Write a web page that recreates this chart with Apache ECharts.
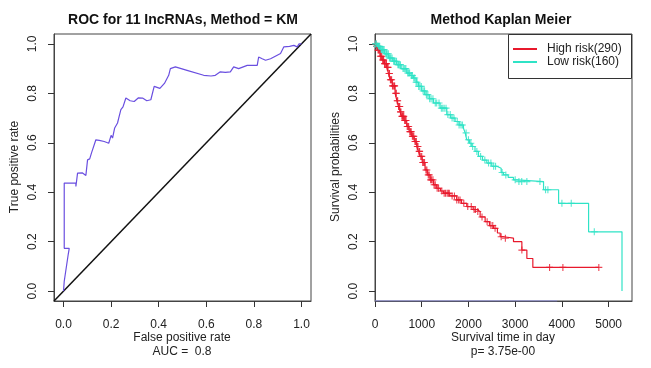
<!DOCTYPE html>
<html><head><meta charset="utf-8">
<script src="https://cdn.jsdelivr.net/npm/echarts@6/dist/echarts.min.js"></script>
<style>html,body{margin:0;padding:0;background:#fff}#c{width:651px;height:368px}</style>
</head><body><div id="c"></div>
<script>
// ROC curve (time-dependent, KM method)
const rocFpr = [0,0.003,0.003,0.01,0.02,0.024,0.024,0.003,0.003,0.052,0.052,0.059,0.08,0.094,0.101,0.11,0.118,0.125,0.136,0.15,0.171,0.19,0.20,0.206,0.215,0.227,0.232,0.241,0.25,0.262,0.28,0.297,0.315,0.332,0.35,0.367,0.381,0.405,0.424,0.442,0.449,0.47,0.519,0.589,0.62,0.638,0.659,0.68,0.701,0.715,0.736,0.772,0.814,0.82,0.835,0.849,0.87,0.912,0.926,0.95,0.968,0.982,0.99,1];
const rocTpr = [0,0,0.04,0.04,0.15,0.155,0.173,0.173,0.437,0.437,0.423,0.477,0.478,0.468,0.531,0.535,0.56,0.565,0.612,0.61,0.605,0.598,0.63,0.619,0.66,0.68,0.70,0.734,0.745,0.781,0.77,0.767,0.782,0.781,0.77,0.774,0.828,0.82,0.84,0.873,0.9,0.907,0.893,0.873,0.87,0.873,0.887,0.885,0.887,0.907,0.9,0.913,0.913,0.947,0.94,0.934,0.94,0.961,0.988,0.99,0.994,0.988,1,1];
const diagonal = [[-0.04,-0.04],[1.04,1.04]];
const rocTicks = [0,0.2,0.4,0.6,0.8,1.0];

// Kaplan–Meier steps
const highTimes = [0,30,60,107,150,200,250,290,321,370,429,470,500,540,571,620,679,730,786,840,893,930,964,1010,1071,1120,1179,1250,1321,1400,1464,1600,1750,1850,1964,2100,2179,2250,2357,2450,2536,2620,2679,2750,2964,3143,3250,3378];
const highSurv  = [1,0.99,0.975,0.95,0.935,0.92,0.905,0.88,0.855,0.83,0.80,0.77,0.747,0.725,0.707,0.69,0.666,0.645,0.626,0.605,0.585,0.565,0.545,0.52,0.49,0.47,0.45,0.43,0.416,0.405,0.396,0.385,0.369,0.355,0.342,0.33,0.322,0.30,0.281,0.265,0.254,0.235,0.22,0.214,0.2,0.166,0.132,0.096];
const highCensor = [20,35,45,65,75,95,115,130,145,165,175,185,205,215,235,245,265,280,300,310,330,340,355,375,390,410,420,445,455,475,485,505,520,530,545,555,575,590,600,615,635,650,665,690,705,720,745,760,775,800,815,830,855,870,885,905,920,945,955,980,1000,1020,1040,1060,1090,1110,1140,1160,1190,1210,1240,1265,1290,1330,1360,1430,1480,1510,1545,1570,1590,1650,1700,1750,1790,1820,1900,1985,2060,2120,2150,2200,2290,2400,2480,2520,2570,2700,2790,3143,3736,4021,4790];
const lowTimes = [0,40,107,200,286,380,464,560,679,750,821,880,929,1000,1071,1160,1250,1393,1536,1620,1714,1800,1893,1930,1964,2020,2071,2140,2214,2300,2393,2500,2607,2700,2750,2850,2964,3036,3607,3929,4571,5286];
const lowSurv  = [1,0.99,0.977,0.96,0.943,0.93,0.916,0.9,0.882,0.872,0.862,0.845,0.828,0.81,0.795,0.778,0.761,0.74,0.714,0.70,0.686,0.672,0.659,0.64,0.612,0.598,0.585,0.565,0.545,0.53,0.518,0.505,0.497,0.48,0.47,0.46,0.45,0.443,0.41,0.355,0.24,0];
const lowCensor = [15,25,40,55,70,80,100,120,135,150,165,175,195,230,245,260,285,310,325,340,365,400,415,430,460,490,505,520,545,600,620,640,660,700,720,740,780,800,830,850,880,900,935,960,990,1030,1060,1100,1130,1170,1200,1240,1290,1320,1370,1420,1450,1480,1520,1560,1610,1650,1690,1760,1800,1840,1870,1950,2000,2050,2090,2180,2260,2350,2430,2480,2540,2580,2720,2800,3000,3080,3140,3250,3530,3650,3700,4000,4200,4693];
const kmTicks = [0,1000,2000,3000,4000,5000];
const probTicks = [0,0.2,0.4,0.6,0.8,1.0];
const bottomSegment = [[0,-0.04],[3900,-0.04]];

const FONT = '"Liberation Sans", Arial, Helvetica, sans-serif';
const RED = '#e8192c', TEAL = '#2fe3c6', PURPLE = '#6a4fe0';

function stepData(t, s, endT) {
  const d = t.map((v, i) => [v, s[i]]);
  if (endT !== undefined) d.push([endT, s[s.length - 1]]);
  return d;
}
function survAt(t, s, x) {
  let v = s[0];
  for (let i = 0; i < t.length; i++) if (t[i] <= x) v = s[i];
  return v;
}
const plus = 'path://M4.2,0H5.8V4.2H10V5.8H5.8V10H4.2V5.8H0V4.2H4.2Z';

function valAxis(idx, min, max, ticks, fmt, isY) {
  return {
    type: 'value', gridIndex: idx, min: min, max: max,
    axisLine: { show: true, onZero: false, lineStyle: { color: '#444', width: 1 } },
    splitLine: { show: false },
    axisTick: { show: true, customValues: ticks, length: 6, inside: false, lineStyle: { color: '#333', width: 1 } },
    axisLabel: { show: true, customValues: ticks, formatter: fmt, color: '#222', fontSize: 12, fontFamily: FONT,
      margin: isY ? 15 : 18, rotate: isY ? 90 : 0 }
  };
}

const chart = echarts.init(document.getElementById('c'), null, { renderer: 'canvas' });
chart.setOption({
  animation: false,
  backgroundColor: '#fff',
  grid: [
    { left: 54, top: 34, width: 257, height: 267, show: true, borderColor: '#444', borderWidth: 1, backgroundColor: 'transparent' },
    { left: 375, top: 34, width: 257, height: 267, show: true, borderColor: '#444', borderWidth: 1, backgroundColor: 'transparent' }
  ],
  xAxis: [
    valAxis(0, -0.04, 1.04, rocTicks, v => v.toFixed(1), false),
    valAxis(1, 0, 5500, kmTicks, v => String(v), false)
  ],
  yAxis: [
    valAxis(0, -0.04, 1.04, rocTicks, v => v.toFixed(1), true),
    valAxis(1, -0.04, 1.04, probTicks, v => v.toFixed(1), true)
  ],
  legend: {
    left: 513, top: 43, padding: 0, orient: 'vertical', icon: 'rect', itemWidth: 24, itemHeight: 2, itemGap: 1,
    textStyle: { fontSize: 12, color: '#222', fontFamily: FONT, padding: [0, 0, 0, 5] },
    data: ['High risk(290)', 'Low risk(160)']
  },
  series: [
    { type: 'line', xAxisIndex: 0, yAxisIndex: 0, data: diagonal, symbol: 'none', lineStyle: { color: '#111', width: 1.5 }, silent: true },
    { type: 'line', xAxisIndex: 0, yAxisIndex: 0, data: rocFpr.map((v, i) => [v, rocTpr[i]]), symbol: 'none', lineStyle: { color: PURPLE, width: 1.2 }, silent: true },
    { type: 'line', xAxisIndex: 1, yAxisIndex: 1, data: bottomSegment, symbol: 'none', lineStyle: { color: '#8f8fe6', width: 1 }, silent: true, z: 5 },
    { name: 'High risk(290)', type: 'line', xAxisIndex: 1, yAxisIndex: 1, step: 'end', data: stepData(highTimes, highSurv, highCensor[highCensor.length - 1]), symbol: 'none', itemStyle: { color: RED }, lineStyle: { color: RED, width: 1.2 } },
    { name: 'Low risk(160)', type: 'line', xAxisIndex: 1, yAxisIndex: 1, step: 'end', data: stepData(lowTimes, lowSurv), symbol: 'none', itemStyle: { color: TEAL }, lineStyle: { color: TEAL, width: 1.2 } },
    { type: 'scatter', xAxisIndex: 1, yAxisIndex: 1, data: highCensor.map(t => [t, survAt(highTimes, highSurv, t)]), symbol: plus, symbolSize: 7, itemStyle: { color: RED }, silent: true },
    { type: 'scatter', xAxisIndex: 1, yAxisIndex: 1, data: lowCensor.map(t => [t, survAt(lowTimes, lowSurv, t)]), symbol: plus, symbolSize: 7, itemStyle: { color: TEAL }, silent: true }
  ],
  graphic: [
    { type: 'rect', shape: { x: 508.5, y: 34.5, width: 123, height: 44 }, style: { fill: 'none', stroke: '#333', lineWidth: 1 }, z: 10 },
    { type: 'text', x: 183, y: 20, style: { text: 'ROC for 11 IncRNAs, Method = KM', font: 'bold 14px ' + FONT, fill: '#111', align: 'center', verticalAlign: 'middle' } },
    { type: 'text', x: 501, y: 20, style: { text: 'Method Kaplan Meier', font: 'bold 14px ' + FONT, fill: '#111', align: 'center', verticalAlign: 'middle' } },
    { type: 'text', x: 182, y: 338, style: { text: 'False positive rate', font: '12px ' + FONT, fill: '#222', align: 'center', verticalAlign: 'middle' } },
    { type: 'text', x: 182, y: 352, style: { text: 'AUC =  0.8', font: '12px ' + FONT, fill: '#222', align: 'center', verticalAlign: 'middle' } },
    { type: 'text', x: 503, y: 338, style: { text: 'Survival time in day', font: '12px ' + FONT, fill: '#222', align: 'center', verticalAlign: 'middle' } },
    { type: 'text', x: 503, y: 352, style: { text: 'p= 3.75e-00', font: '12px ' + FONT, fill: '#222', align: 'center', verticalAlign: 'middle' } },
    { type: 'text', x: 15, y: 167, rotation: Math.PI / 2, style: { text: 'True positive rate', font: '12px ' + FONT, fill: '#222', align: 'center', verticalAlign: 'middle' } },
    { type: 'text', x: 336, y: 167, rotation: Math.PI / 2, style: { text: 'Survival probabilities', font: '12px ' + FONT, fill: '#222', align: 'center', verticalAlign: 'middle' } }
  ]
});
</script>
</body></html>
